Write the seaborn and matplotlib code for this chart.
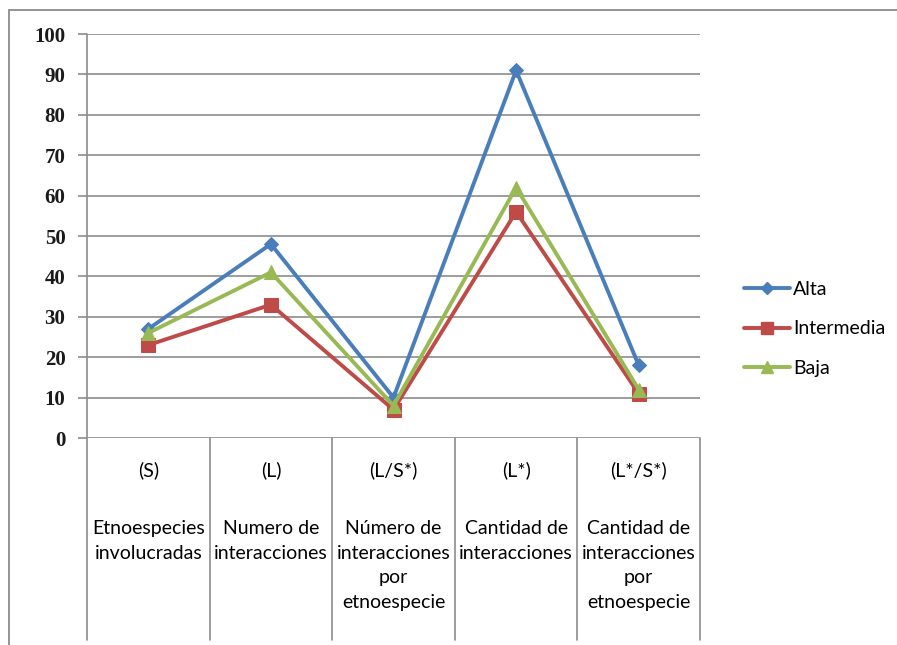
import matplotlib
matplotlib.use("Agg")
import matplotlib.pyplot as plt
import matplotlib.transforms as mtransforms
from matplotlib.lines import Line2D
import seaborn as sns
import pandas as pd

# Indicator codes and descriptions on the category axis
codes = ["(S)", "(L)", "(L/S*)", "(L*)", "(L*/S*)"]
descriptions = [
    "Etnoespecies\ninvolucradas",
    "Numero de\ninteracciones",
    "Número de\ninteracciones\npor\netnoespecie",
    "Cantidad de\ninteracciones",
    "Cantidad de\ninteracciones\npor\netnoespecie",
]

# Values for each level
alta = [27, 48, 10, 91, 18]
intermedia = [23, 33, 7, 56, 11]
baja = [26, 41, 8, 62, 12]
series_names = ["Alta", "Intermedia", "Baja"]
yticks = [0, 10, 20, 30, 40, 50, 60, 70, 80, 90, 100]

rows = []
for name, vals in zip(series_names, [alta, intermedia, baja]):
    for i, v in enumerate(vals):
        rows.append({"pos": i, "valor": v, "nivel": name})
df = pd.DataFrame(rows)

W, H = 897, 645
sns.set_theme(style="white")
fig = plt.figure(figsize=(W / 100, H / 100), dpi=100)
fig.patch.set_facecolor("white")

def fx(px):
    return px / W

def fy(py):
    return 1 - py / H

# plot area in pixels: x 87..700, y 34 (top) .. 438 (zero line)
ax = fig.add_axes([fx(87), fy(438), fx(700) - fx(87), (438 - 34) / H])

colors = {"Alta": "#4A7EBB", "Intermedia": "#BE4B48", "Baja": "#98B954"}
markers = {"Alta": "D", "Intermedia": "s", "Baja": "^"}
sizes = {"Alta": 7, "Intermedia": 10, "Baja": 10}

for name in series_names:
    sub = df[df["nivel"] == name]
    sns.lineplot(data=sub, x="pos", y="valor", color=colors[name], lw=2.8,
                 marker=markers[name], markersize=sizes[name],
                 markeredgecolor=colors[name], ax=ax, legend=False,
                 label=name, zorder=3)

ax.set_xlim(-0.5, 4.5)
ax.set_ylim(0, 100)
ax.set_xlabel("")
ax.set_ylabel("")
ax.set_xticks([])
ax.set_yticks(yticks)
ax.set_yticklabels([str(t) for t in yticks], family="Liberation Serif",
                   fontweight="bold", fontsize=15, color="#1a1a1a")
ax.tick_params(axis="y", which="major", left=True, length=6.5, width=1.2,
               color="#8c8c8c", pad=9)
for t in yticks:
    ax.axhline(t, color="#8c8c8c", lw=1.2, zorder=1)
for side in ["top", "right", "bottom", "left"]:
    ax.spines[side].set_visible(False)

# category grid below the plot area
trans = mtransforms.blended_transform_factory(ax.transData, fig.transFigure)
for b in [-0.5, 0.5, 1.5, 2.5, 3.5, 4.5]:
    lo = fy(640)
    hi = fy(438) if b != -0.5 else fy(34)
    ax.add_line(Line2D([b, b], [lo, hi], transform=trans, color="#8c8c8c",
                       lw=1.2, clip_on=False, zorder=2))

for i, (c, d) in enumerate(zip(codes, descriptions)):
    ax.text(i, fy(470), c, transform=trans, ha="center", va="center",
            family="Lato", fontsize=14, color="#000000")
    ax.text(i, fy(520), d, transform=trans, ha="center", va="top",
            family="Lato", fontsize=14, color="#000000", linespacing=1.55,
            multialignment="center")

# outer frame (top and left edges)
fig.add_artist(Line2D([fx(9), 1], [fy(10), fy(10)], transform=fig.transFigure,
                      color="#8c8c8c", lw=1.3))
fig.add_artist(Line2D([fx(9), fx(9)], [fy(10), 0], transform=fig.transFigure,
                      color="#8c8c8c", lw=1.3))

handles = [Line2D([], [], color=colors[n], lw=2.8, marker=markers[n],
                  markersize=sizes[n] - 1, markeredgecolor=colors[n])
           for n in series_names]
leg = fig.legend(handles, series_names, loc="center left",
                 bbox_to_anchor=(fx(726), fy(329)), frameon=False,
                 prop={"family": "Lato", "size": 14}, handlelength=2.4,
                 handletextpad=0.15, labelspacing=1.15)
for txt in leg.get_texts():
    txt.set_color("#000000")

fig.savefig("out.png", dpi=100)
